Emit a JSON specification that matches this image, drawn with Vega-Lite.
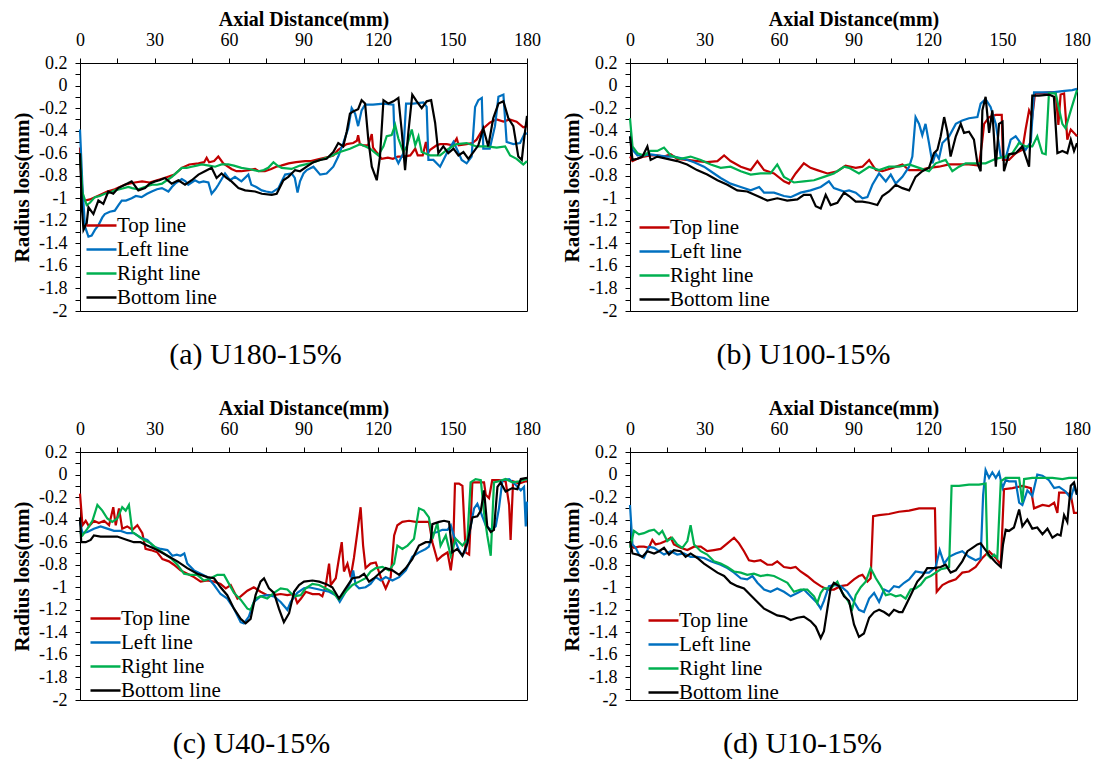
{
"$schema": "https://vega.github.io/schema/vega-lite/v6.json",
"padding": {"left": 11, "top": 8, "right": 5, "bottom": 0},
"background": "white",
"config": {
 "font": "Liberation Serif",
 "view": {"stroke": "black", "strokeWidth": 1},
 "axis": {"labelFont": "Liberation Serif", "labelFontSize": 18, "labelColor": "black", "titleFont": "Liberation Serif", "titleFontSize": 20, "titleFontWeight": "bold", "titleColor": "black", "domainColor": "black", "tickColor": "black", "grid": false, "labelOverlap": false, "labelFlush": false, "tickSize": 5},
 "axisX": {"labelPadding": 9, "titlePadding": 2},
 "axisY": {"labelPadding": 8, "titlePadding": 6, "titleFontSize": 21},
 "legend": {"labelFont": "Liberation Serif", "labelFontSize": 21, "labelColor": "black", "symbolType": "M-3,0H3", "symbolSize": 100, "symbolStrokeWidth": 2.5, "rowPadding": 2, "labelOffset": 5, "orient": "none", "padding": 0},
 "title": {"font": "Liberation Serif", "fontSize": 30, "fontWeight": "normal", "color": "black", "orient": "bottom"}
},
"datasets": {
"a": [
{"s":"T","x":0,"y":-0.55},{"s":"T","x":0.8,"y":-0.98},{"s":"T","x":2,"y":-1.02},{"s":"T","x":4,"y":-1.01},{"s":"T","x":6,"y":-0.99},{"s":"T","x":8,"y":-0.97},{"s":"T","x":11,"y":-0.94},{"s":"T","x":14,"y":-0.92},{"s":"T","x":18,"y":-0.88},{"s":"T","x":22,"y":-0.86},{"s":"T","x":25,"y":-0.85},{"s":"T","x":28,"y":-0.86},{"s":"T","x":31,"y":-0.84},{"s":"T","x":34,"y":-0.82},{"s":"T","x":38,"y":-0.79},{"s":"T","x":41,"y":-0.73},{"s":"T","x":44,"y":-0.7},{"s":"T","x":47.7,"y":-0.69},{"s":"T","x":50,"y":-0.68},{"s":"T","x":51,"y":-0.64},{"s":"T","x":52,"y":-0.68},{"s":"T","x":54,"y":-0.67},{"s":"T","x":55.7,"y":-0.63},{"s":"T","x":57.7,"y":-0.69},{"s":"T","x":61,"y":-0.74},{"s":"T","x":63,"y":-0.76},{"s":"T","x":65,"y":-0.76},{"s":"T","x":68,"y":-0.75},{"s":"T","x":70.5,"y":-0.74},{"s":"T","x":72,"y":-0.76},{"s":"T","x":74.5,"y":-0.76},{"s":"T","x":77,"y":-0.74},{"s":"T","x":79,"y":-0.72},{"s":"T","x":81,"y":-0.71},{"s":"T","x":84,"y":-0.69},{"s":"T","x":87,"y":-0.68},{"s":"T","x":90.6,"y":-0.67},{"s":"T","x":93,"y":-0.67},{"s":"T","x":96.7,"y":-0.65},{"s":"T","x":100.7,"y":-0.63},{"s":"T","x":102,"y":-0.62},{"s":"T","x":104,"y":-0.57},{"s":"T","x":106,"y":-0.54},{"s":"T","x":107.4,"y":-0.52},{"s":"T","x":110,"y":-0.51},{"s":"T","x":111.5,"y":-0.49},{"s":"T","x":112,"y":-0.44},{"s":"T","x":112.7,"y":-0.52},{"s":"T","x":114,"y":-0.53},{"s":"T","x":116,"y":-0.53},{"s":"T","x":117.5,"y":-0.43},{"s":"T","x":118,"y":-0.55},{"s":"T","x":119,"y":-0.58},{"s":"T","x":121.5,"y":-0.65},{"s":"T","x":124,"y":-0.64},{"s":"T","x":126,"y":-0.65},{"s":"T","x":128,"y":-0.63},{"s":"T","x":130.2,"y":-0.63},{"s":"T","x":133,"y":-0.62},{"s":"T","x":135,"y":-0.56},{"s":"T","x":136,"y":-0.62},{"s":"T","x":138,"y":-0.62},{"s":"T","x":139.3,"y":-0.5},{"s":"T","x":140,"y":-0.6},{"s":"T","x":141,"y":-0.57},{"s":"T","x":143.6,"y":-0.53},{"s":"T","x":145,"y":-0.52},{"s":"T","x":147.7,"y":-0.52},{"s":"T","x":150,"y":-0.53},{"s":"T","x":151.7,"y":-0.47},{"s":"T","x":152.5,"y":-0.53},{"s":"T","x":155.7,"y":-0.52},{"s":"T","x":158,"y":-0.51},{"s":"T","x":159.7,"y":-0.48},{"s":"T","x":162.4,"y":-0.38},{"s":"T","x":165,"y":-0.33},{"s":"T","x":167.8,"y":-0.3},{"s":"T","x":170.5,"y":-0.32},{"s":"T","x":173,"y":-0.3},{"s":"T","x":175.8,"y":-0.32},{"s":"T","x":178.5,"y":-0.37},{"s":"T","x":180,"y":-0.36},
{"s":"L","x":0,"y":-0.39},{"s":"L","x":1,"y":-0.9},{"s":"L","x":2,"y":-1.25},{"s":"L","x":3.4,"y":-1.34},{"s":"L","x":4.7,"y":-1.33},{"s":"L","x":6,"y":-1.28},{"s":"L","x":7.4,"y":-1.24},{"s":"L","x":9,"y":-1.17},{"s":"L","x":10,"y":-1.14},{"s":"L","x":12,"y":-1.12},{"s":"L","x":14,"y":-1.11},{"s":"L","x":15.5,"y":-1.06},{"s":"L","x":16.8,"y":-1.02},{"s":"L","x":18.5,"y":-1.02},{"s":"L","x":20.8,"y":-1},{"s":"L","x":22.5,"y":-0.98},{"s":"L","x":24.8,"y":-0.99},{"s":"L","x":27,"y":-0.96},{"s":"L","x":28.9,"y":-0.94},{"s":"L","x":31,"y":-0.92},{"s":"L","x":33,"y":-0.91},{"s":"L","x":35.6,"y":-0.94},{"s":"L","x":37,"y":-0.9},{"s":"L","x":38.3,"y":-0.87},{"s":"L","x":41,"y":-0.83},{"s":"L","x":42.5,"y":-0.85},{"s":"L","x":43.6,"y":-0.88},{"s":"L","x":46.3,"y":-0.84},{"s":"L","x":48,"y":-0.86},{"s":"L","x":49.7,"y":-0.85},{"s":"L","x":51.7,"y":-0.86},{"s":"L","x":53,"y":-0.96},{"s":"L","x":54.5,"y":-0.92},{"s":"L","x":55.7,"y":-0.88},{"s":"L","x":58.4,"y":-0.78},{"s":"L","x":60.4,"y":-0.84},{"s":"L","x":62.4,"y":-0.81},{"s":"L","x":65,"y":-0.85},{"s":"L","x":67.8,"y":-0.79},{"s":"L","x":69,"y":-0.88},{"s":"L","x":71,"y":-0.9},{"s":"L","x":73.2,"y":-0.93},{"s":"L","x":75,"y":-0.94},{"s":"L","x":77.2,"y":-0.95},{"s":"L","x":79.9,"y":-0.91},{"s":"L","x":81,"y":-0.86},{"s":"L","x":82.6,"y":-0.79},{"s":"L","x":85.2,"y":-0.78},{"s":"L","x":86.5,"y":-0.82},{"s":"L","x":87.6,"y":-0.95},{"s":"L","x":88.6,"y":-0.85},{"s":"L","x":90,"y":-0.78},{"s":"L","x":91.3,"y":-0.75},{"s":"L","x":94,"y":-0.72},{"s":"L","x":96.7,"y":-0.79},{"s":"L","x":99.3,"y":-0.78},{"s":"L","x":102,"y":-0.72},{"s":"L","x":104,"y":-0.63},{"s":"L","x":106,"y":-0.51},{"s":"L","x":108,"y":-0.38},{"s":"L","x":109.4,"y":-0.2},{"s":"L","x":110.8,"y":-0.25},{"s":"L","x":112,"y":-0.36},{"s":"L","x":113.4,"y":-0.22},{"s":"L","x":114.8,"y":-0.17},{"s":"L","x":118,"y":-0.17},{"s":"L","x":122.2,"y":-0.16},{"s":"L","x":126.2,"y":-0.17},{"s":"L","x":126.9,"y":-0.63},{"s":"L","x":128.2,"y":-0.69},{"s":"L","x":130.2,"y":-0.6},{"s":"L","x":131.3,"y":-0.16},{"s":"L","x":134.2,"y":-0.16},{"s":"L","x":138.3,"y":-0.15},{"s":"L","x":139.6,"y":-0.19},{"s":"L","x":140.3,"y":-0.66},{"s":"L","x":142.3,"y":-0.66},{"s":"L","x":145,"y":-0.72},{"s":"L","x":147.7,"y":-0.6},{"s":"L","x":150.4,"y":-0.5},{"s":"L","x":151.7,"y":-0.56},{"s":"L","x":153.7,"y":-0.66},{"s":"L","x":155.7,"y":-0.69},{"s":"L","x":157.7,"y":-0.63},{"s":"L","x":159.1,"y":-0.19},{"s":"L","x":160.4,"y":-0.13},{"s":"L","x":161.8,"y":-0.11},{"s":"L","x":162.4,"y":-0.56},{"s":"L","x":165,"y":-0.56},{"s":"L","x":167.1,"y":-0.36},{"s":"L","x":168.5,"y":-0.1},{"s":"L","x":170.5,"y":-0.08},{"s":"L","x":171.8,"y":-0.5},{"s":"L","x":174.5,"y":-0.52},{"s":"L","x":177.2,"y":-0.51},{"s":"L","x":179.2,"y":-0.42},{"s":"L","x":180,"y":-0.43},
{"s":"R","x":0,"y":-0.6},{"s":"R","x":1,"y":-0.95},{"s":"R","x":2.7,"y":-1.06},{"s":"R","x":4,"y":-1.04},{"s":"R","x":6,"y":-0.99},{"s":"R","x":8,"y":-0.98},{"s":"R","x":10,"y":-0.96},{"s":"R","x":12,"y":-0.95},{"s":"R","x":14,"y":-0.93},{"s":"R","x":16,"y":-0.92},{"s":"R","x":19.5,"y":-0.9},{"s":"R","x":21,"y":-0.91},{"s":"R","x":23.5,"y":-0.92},{"s":"R","x":26,"y":-0.9},{"s":"R","x":29,"y":-0.88},{"s":"R","x":31,"y":-0.88},{"s":"R","x":33,"y":-0.87},{"s":"R","x":35,"y":-0.84},{"s":"R","x":37,"y":-0.81},{"s":"R","x":39,"y":-0.77},{"s":"R","x":41,"y":-0.73},{"s":"R","x":43,"y":-0.73},{"s":"R","x":45,"y":-0.72},{"s":"R","x":47,"y":-0.71},{"s":"R","x":49,"y":-0.7},{"s":"R","x":52,"y":-0.71},{"s":"R","x":54.4,"y":-0.72},{"s":"R","x":57,"y":-0.7},{"s":"R","x":59.7,"y":-0.7},{"s":"R","x":62,"y":-0.71},{"s":"R","x":65,"y":-0.73},{"s":"R","x":68,"y":-0.74},{"s":"R","x":71.8,"y":-0.76},{"s":"R","x":74,"y":-0.75},{"s":"R","x":75.8,"y":-0.73},{"s":"R","x":77.9,"y":-0.68},{"s":"R","x":79.5,"y":-0.71},{"s":"R","x":81.2,"y":-0.73},{"s":"R","x":85.2,"y":-0.74},{"s":"R","x":88.6,"y":-0.71},{"s":"R","x":92.6,"y":-0.69},{"s":"R","x":96.7,"y":-0.66},{"s":"R","x":100.7,"y":-0.63},{"s":"R","x":104.7,"y":-0.59},{"s":"R","x":108.7,"y":-0.56},{"s":"R","x":112.8,"y":-0.52},{"s":"R","x":115,"y":-0.54},{"s":"R","x":116.8,"y":-0.56},{"s":"R","x":120.1,"y":-0.62},{"s":"R","x":122.2,"y":-0.54},{"s":"R","x":123.5,"y":-0.45},{"s":"R","x":125.5,"y":-0.44},{"s":"R","x":126.9,"y":-0.35},{"s":"R","x":128.2,"y":-0.47},{"s":"R","x":130.2,"y":-0.59},{"s":"R","x":131.6,"y":-0.54},{"s":"R","x":133.6,"y":-0.39},{"s":"R","x":135,"y":-0.53},{"s":"R","x":136.3,"y":-0.45},{"s":"R","x":137.6,"y":-0.59},{"s":"R","x":141,"y":-0.62},{"s":"R","x":145,"y":-0.62},{"s":"R","x":147.7,"y":-0.57},{"s":"R","x":151.7,"y":-0.52},{"s":"R","x":155.7,"y":-0.51},{"s":"R","x":159.7,"y":-0.54},{"s":"R","x":163.8,"y":-0.54},{"s":"R","x":167.8,"y":-0.55},{"s":"R","x":171.2,"y":-0.54},{"s":"R","x":173.2,"y":-0.62},{"s":"R","x":175.8,"y":-0.65},{"s":"R","x":178.5,"y":-0.7},{"s":"R","x":180,"y":-0.67},
{"s":"B","x":0,"y":-0.6},{"s":"B","x":0.8,"y":-1.1},{"s":"B","x":1.4,"y":-1.28},{"s":"B","x":2.7,"y":-1.22},{"s":"B","x":3.4,"y":-1.08},{"s":"B","x":5.4,"y":-1.14},{"s":"B","x":7.4,"y":-1.02},{"s":"B","x":9.4,"y":-1.05},{"s":"B","x":11.4,"y":-0.94},{"s":"B","x":13.4,"y":-0.96},{"s":"B","x":15.4,"y":-0.91},{"s":"B","x":18.1,"y":-0.88},{"s":"B","x":20.8,"y":-0.85},{"s":"B","x":23.5,"y":-0.93},{"s":"B","x":26.2,"y":-0.91},{"s":"B","x":28,"y":-0.87},{"s":"B","x":30.2,"y":-0.85},{"s":"B","x":32,"y":-0.84},{"s":"B","x":34.2,"y":-0.82},{"s":"B","x":36.9,"y":-0.87},{"s":"B","x":39.6,"y":-0.84},{"s":"B","x":42.3,"y":-0.88},{"s":"B","x":45,"y":-0.84},{"s":"B","x":47.7,"y":-0.79},{"s":"B","x":50.3,"y":-0.76},{"s":"B","x":53,"y":-0.73},{"s":"B","x":55,"y":-0.82},{"s":"B","x":57,"y":-0.78},{"s":"B","x":59,"y":-0.82},{"s":"B","x":61,"y":-0.85},{"s":"B","x":63.8,"y":-0.91},{"s":"B","x":66.5,"y":-0.93},{"s":"B","x":70.5,"y":-0.94},{"s":"B","x":73.2,"y":-0.96},{"s":"B","x":77.2,"y":-0.97},{"s":"B","x":79.2,"y":-0.96},{"s":"B","x":81.9,"y":-0.84},{"s":"B","x":83.9,"y":-0.81},{"s":"B","x":86.6,"y":-0.75},{"s":"B","x":88.6,"y":-0.76},{"s":"B","x":91.3,"y":-0.72},{"s":"B","x":94,"y":-0.68},{"s":"B","x":96.7,"y":-0.66},{"s":"B","x":99.3,"y":-0.65},{"s":"B","x":102,"y":-0.59},{"s":"B","x":104,"y":-0.51},{"s":"B","x":106,"y":-0.54},{"s":"B","x":107.4,"y":-0.41},{"s":"B","x":108.7,"y":-0.25},{"s":"B","x":110,"y":-0.23},{"s":"B","x":112,"y":-0.21},{"s":"B","x":113.4,"y":-0.13},{"s":"B","x":114.8,"y":-0.16},{"s":"B","x":116.1,"y":-0.48},{"s":"B","x":117.5,"y":-0.72},{"s":"B","x":119.5,"y":-0.84},{"s":"B","x":120.8,"y":-0.63},{"s":"B","x":122.2,"y":-0.13},{"s":"B","x":124.2,"y":-0.16},{"s":"B","x":126.2,"y":-0.14},{"s":"B","x":128.2,"y":-0.11},{"s":"B","x":129.5,"y":-0.39},{"s":"B","x":130.9,"y":-0.75},{"s":"B","x":132.2,"y":-0.42},{"s":"B","x":133.8,"y":-0.08},{"s":"B","x":135.6,"y":-0.14},{"s":"B","x":137.6,"y":-0.2},{"s":"B","x":139.6,"y":-0.14},{"s":"B","x":141.4,"y":-0.13},{"s":"B","x":143,"y":-0.33},{"s":"B","x":144.3,"y":-0.6},{"s":"B","x":146.3,"y":-0.54},{"s":"B","x":148.3,"y":-0.6},{"s":"B","x":150.4,"y":-0.56},{"s":"B","x":152.4,"y":-0.62},{"s":"B","x":154.4,"y":-0.59},{"s":"B","x":156.4,"y":-0.65},{"s":"B","x":158.4,"y":-0.59},{"s":"B","x":160.4,"y":-0.53},{"s":"B","x":162.4,"y":-0.38},{"s":"B","x":164.4,"y":-0.54},{"s":"B","x":166.4,"y":-0.29},{"s":"B","x":168.5,"y":-0.16},{"s":"B","x":170.5,"y":-0.14},{"s":"B","x":172.5,"y":-0.29},{"s":"B","x":174.5,"y":-0.36},{"s":"B","x":176.5,"y":-0.63},{"s":"B","x":177.9,"y":-0.66},{"s":"B","x":178.8,"y":-0.48},{"s":"B","x":180,"y":-0.27}
],
"b": [
{"s":"T","x":0,"y":-0.63},{"s":"T","x":1,"y":-0.67},{"s":"T","x":3,"y":-0.65},{"s":"T","x":5.6,"y":-0.63},{"s":"T","x":8.3,"y":-0.62},{"s":"T","x":11,"y":-0.62},{"s":"T","x":13.7,"y":-0.63},{"s":"T","x":16.4,"y":-0.61},{"s":"T","x":19,"y":-0.65},{"s":"T","x":23,"y":-0.66},{"s":"T","x":27,"y":-0.67},{"s":"T","x":31.1,"y":-0.68},{"s":"T","x":35.2,"y":-0.67},{"s":"T","x":37.9,"y":-0.62},{"s":"T","x":40.5,"y":-0.67},{"s":"T","x":44.6,"y":-0.72},{"s":"T","x":48.6,"y":-0.75},{"s":"T","x":51.3,"y":-0.67},{"s":"T","x":54,"y":-0.75},{"s":"T","x":58,"y":-0.78},{"s":"T","x":62,"y":-0.85},{"s":"T","x":64,"y":-0.87},{"s":"T","x":66.7,"y":-0.78},{"s":"T","x":70,"y":-0.69},{"s":"T","x":72.7,"y":-0.73},{"s":"T","x":75.4,"y":-0.75},{"s":"T","x":79.5,"y":-0.78},{"s":"T","x":83.5,"y":-0.76},{"s":"T","x":86.8,"y":-0.71},{"s":"T","x":90.9,"y":-0.73},{"s":"T","x":93.6,"y":-0.72},{"s":"T","x":96.3,"y":-0.66},{"s":"T","x":99,"y":-0.75},{"s":"T","x":101.6,"y":-0.76},{"s":"T","x":105.7,"y":-0.73},{"s":"T","x":109.7,"y":-0.7},{"s":"T","x":112.4,"y":-0.75},{"s":"T","x":116.4,"y":-0.75},{"s":"T","x":120.4,"y":-0.73},{"s":"T","x":124.4,"y":-0.72},{"s":"T","x":128.5,"y":-0.7},{"s":"T","x":132.5,"y":-0.7},{"s":"T","x":136.5,"y":-0.7},{"s":"T","x":140.5,"y":-0.71},{"s":"T","x":141.8,"y":-0.5},{"s":"T","x":142.6,"y":-0.34},{"s":"T","x":144.6,"y":-0.28},{"s":"T","x":147.3,"y":-0.26},{"s":"T","x":149.7,"y":-0.26},{"s":"T","x":150.2,"y":-0.66},{"s":"T","x":152.6,"y":-0.66},{"s":"T","x":155.3,"y":-0.6},{"s":"T","x":158,"y":-0.57},{"s":"T","x":159.3,"y":-0.39},{"s":"T","x":160.7,"y":-0.22},{"s":"T","x":162,"y":-0.28},{"s":"T","x":163.1,"y":-0.07},{"s":"T","x":165,"y":-0.07},{"s":"T","x":168.7,"y":-0.06},{"s":"T","x":171.4,"y":-0.06},{"s":"T","x":172.5,"y":-0.35},{"s":"T","x":173.4,"y":-0.08},{"s":"T","x":174.8,"y":-0.07},{"s":"T","x":176.1,"y":-0.48},{"s":"T","x":177.5,"y":-0.39},{"s":"T","x":178.8,"y":-0.42},{"s":"T","x":180,"y":-0.45},
{"s":"L","x":0,"y":-0.45},{"s":"L","x":1,"y":-0.57},{"s":"L","x":3,"y":-0.62},{"s":"L","x":5.6,"y":-0.62},{"s":"L","x":8.3,"y":-0.61},{"s":"L","x":11,"y":-0.62},{"s":"L","x":15,"y":-0.63},{"s":"L","x":17.7,"y":-0.63},{"s":"L","x":21.7,"y":-0.65},{"s":"L","x":25.8,"y":-0.68},{"s":"L","x":29.8,"y":-0.72},{"s":"L","x":32.5,"y":-0.76},{"s":"L","x":36.5,"y":-0.82},{"s":"L","x":40.5,"y":-0.87},{"s":"L","x":44.6,"y":-0.9},{"s":"L","x":48.6,"y":-0.93},{"s":"L","x":52,"y":-0.9},{"s":"L","x":54,"y":-0.95},{"s":"L","x":58,"y":-0.95},{"s":"L","x":62,"y":-0.98},{"s":"L","x":64.7,"y":-0.99},{"s":"L","x":68.7,"y":-0.95},{"s":"L","x":72.7,"y":-0.93},{"s":"L","x":76.8,"y":-0.9},{"s":"L","x":80.1,"y":-0.85},{"s":"L","x":82.1,"y":-0.91},{"s":"L","x":86.2,"y":-0.94},{"s":"L","x":88.2,"y":-0.93},{"s":"L","x":90.9,"y":-0.95},{"s":"L","x":93.6,"y":-1},{"s":"L","x":95.6,"y":-0.99},{"s":"L","x":97.6,"y":-0.88},{"s":"L","x":100.3,"y":-0.78},{"s":"L","x":103,"y":-0.85},{"s":"L","x":105,"y":-0.79},{"s":"L","x":107,"y":-0.87},{"s":"L","x":109.7,"y":-0.81},{"s":"L","x":112.4,"y":-0.72},{"s":"L","x":113.7,"y":-0.63},{"s":"L","x":115,"y":-0.28},{"s":"L","x":116.4,"y":-0.34},{"s":"L","x":117.7,"y":-0.44},{"s":"L","x":119,"y":-0.34},{"s":"L","x":120.4,"y":-0.51},{"s":"L","x":121.8,"y":-0.69},{"s":"L","x":123.1,"y":-0.6},{"s":"L","x":124.4,"y":-0.65},{"s":"L","x":125.8,"y":-0.51},{"s":"L","x":128.5,"y":-0.45},{"s":"L","x":131.2,"y":-0.34},{"s":"L","x":133.8,"y":-0.31},{"s":"L","x":136.5,"y":-0.29},{"s":"L","x":139.9,"y":-0.28},{"s":"L","x":141.2,"y":-0.16},{"s":"L","x":143.2,"y":-0.12},{"s":"L","x":145.2,"y":-0.19},{"s":"L","x":147.3,"y":-0.34},{"s":"L","x":149.3,"y":-0.63},{"s":"L","x":151.3,"y":-0.64},{"s":"L","x":153.3,"y":-0.48},{"s":"L","x":155.3,"y":-0.45},{"s":"L","x":157.3,"y":-0.51},{"s":"L","x":159.3,"y":-0.57},{"s":"L","x":161.4,"y":-0.5},{"s":"L","x":162.7,"y":-0.06},{"s":"L","x":166,"y":-0.06},{"s":"L","x":170,"y":-0.06},{"s":"L","x":174.1,"y":-0.05},{"s":"L","x":178.1,"y":-0.04},{"s":"L","x":180,"y":-0.03},
{"s":"R","x":0,"y":-0.29},{"s":"R","x":1,"y":-0.54},{"s":"R","x":3,"y":-0.6},{"s":"R","x":5.6,"y":-0.62},{"s":"R","x":8.3,"y":-0.58},{"s":"R","x":11,"y":-0.58},{"s":"R","x":13.7,"y":-0.55},{"s":"R","x":16.4,"y":-0.62},{"s":"R","x":20.4,"y":-0.65},{"s":"R","x":24.4,"y":-0.63},{"s":"R","x":28.5,"y":-0.66},{"s":"R","x":32.5,"y":-0.7},{"s":"R","x":36.5,"y":-0.73},{"s":"R","x":40.5,"y":-0.72},{"s":"R","x":44.6,"y":-0.76},{"s":"R","x":48.6,"y":-0.79},{"s":"R","x":52.6,"y":-0.78},{"s":"R","x":56.6,"y":-0.78},{"s":"R","x":59.3,"y":-0.7},{"s":"R","x":62,"y":-0.81},{"s":"R","x":66,"y":-0.86},{"s":"R","x":70,"y":-0.85},{"s":"R","x":74.1,"y":-0.84},{"s":"R","x":78.1,"y":-0.81},{"s":"R","x":82.1,"y":-0.78},{"s":"R","x":86.2,"y":-0.72},{"s":"R","x":88.2,"y":-0.73},{"s":"R","x":92.2,"y":-0.78},{"s":"R","x":96.3,"y":-0.72},{"s":"R","x":100.3,"y":-0.75},{"s":"R","x":104.3,"y":-0.72},{"s":"R","x":108.3,"y":-0.72},{"s":"R","x":112.4,"y":-0.7},{"s":"R","x":116.4,"y":-0.73},{"s":"R","x":120.4,"y":-0.76},{"s":"R","x":123.1,"y":-0.69},{"s":"R","x":127.1,"y":-0.66},{"s":"R","x":129.8,"y":-0.76},{"s":"R","x":132.5,"y":-0.72},{"s":"R","x":135.2,"y":-0.69},{"s":"R","x":139.2,"y":-0.69},{"s":"R","x":143.2,"y":-0.69},{"s":"R","x":147.3,"y":-0.65},{"s":"R","x":151.3,"y":-0.63},{"s":"R","x":154,"y":-0.6},{"s":"R","x":156.6,"y":-0.51},{"s":"R","x":159.3,"y":-0.54},{"s":"R","x":162,"y":-0.54},{"s":"R","x":164,"y":-0.45},{"s":"R","x":166,"y":-0.6},{"s":"R","x":167.4,"y":-0.61},{"s":"R","x":168.7,"y":-0.07},{"s":"R","x":171.4,"y":-0.07},{"s":"R","x":174.1,"y":-0.34},{"s":"R","x":175.4,"y":-0.38},{"s":"R","x":177.5,"y":-0.22},{"s":"R","x":180,"y":-0.04},
{"s":"B","x":0,"y":-0.45},{"s":"B","x":1,"y":-0.66},{"s":"B","x":3,"y":-0.65},{"s":"B","x":5,"y":-0.63},{"s":"B","x":7,"y":-0.54},{"s":"B","x":8.3,"y":-0.66},{"s":"B","x":11,"y":-0.63},{"s":"B","x":15,"y":-0.65},{"s":"B","x":19,"y":-0.67},{"s":"B","x":23,"y":-0.7},{"s":"B","x":27,"y":-0.75},{"s":"B","x":31.1,"y":-0.79},{"s":"B","x":35.2,"y":-0.84},{"s":"B","x":39.2,"y":-0.88},{"s":"B","x":43.2,"y":-0.93},{"s":"B","x":47.2,"y":-0.94},{"s":"B","x":51.3,"y":-0.98},{"s":"B","x":55.3,"y":-1.02},{"s":"B","x":59.3,"y":-1},{"s":"B","x":63.3,"y":-1.02},{"s":"B","x":67.4,"y":-1.01},{"s":"B","x":70,"y":-0.97},{"s":"B","x":72.7,"y":-0.97},{"s":"B","x":74.8,"y":-1.07},{"s":"B","x":76.8,"y":-1.09},{"s":"B","x":78.8,"y":-0.97},{"s":"B","x":80.8,"y":-1.06},{"s":"B","x":83.5,"y":-1.04},{"s":"B","x":86.2,"y":-0.95},{"s":"B","x":88.2,"y":-0.98},{"s":"B","x":90.9,"y":-1.03},{"s":"B","x":93.6,"y":-1.03},{"s":"B","x":96.3,"y":-1.04},{"s":"B","x":99.6,"y":-1.06},{"s":"B","x":101.6,"y":-0.98},{"s":"B","x":104.3,"y":-0.94},{"s":"B","x":107,"y":-0.88},{"s":"B","x":109.7,"y":-0.91},{"s":"B","x":112.4,"y":-0.93},{"s":"B","x":115,"y":-0.81},{"s":"B","x":117.7,"y":-0.76},{"s":"B","x":120.4,"y":-0.73},{"s":"B","x":122.4,"y":-0.6},{"s":"B","x":123.8,"y":-0.57},{"s":"B","x":125.1,"y":-0.45},{"s":"B","x":126.5,"y":-0.28},{"s":"B","x":127.8,"y":-0.41},{"s":"B","x":129.1,"y":-0.63},{"s":"B","x":131.2,"y":-0.45},{"s":"B","x":133.2,"y":-0.34},{"s":"B","x":134.5,"y":-0.42},{"s":"B","x":136.5,"y":-0.41},{"s":"B","x":138.5,"y":-0.48},{"s":"B","x":139.9,"y":-0.69},{"s":"B","x":141.2,"y":-0.76},{"s":"B","x":141.9,"y":-0.22},{"s":"B","x":143.2,"y":-0.1},{"s":"B","x":144.6,"y":-0.42},{"s":"B","x":145.9,"y":-0.22},{"s":"B","x":147.3,"y":-0.72},{"s":"B","x":148.6,"y":-0.34},{"s":"B","x":150,"y":-0.32},{"s":"B","x":150.6,"y":-0.76},{"s":"B","x":152.6,"y":-0.61},{"s":"B","x":155.3,"y":-0.6},{"s":"B","x":158,"y":-0.54},{"s":"B","x":160.7,"y":-0.72},{"s":"B","x":162,"y":-0.09},{"s":"B","x":164.7,"y":-0.09},{"s":"B","x":168.7,"y":-0.08},{"s":"B","x":170.7,"y":-0.1},{"s":"B","x":172.1,"y":-0.6},{"s":"B","x":174.1,"y":-0.58},{"s":"B","x":176.1,"y":-0.6},{"s":"B","x":177.5,"y":-0.48},{"s":"B","x":178.8,"y":-0.58},{"s":"B","x":180,"y":-0.51}
],
"c": [
{"s":"T","x":0,"y":-0.17},{"s":"T","x":1,"y":-0.45},{"s":"T","x":2.3,"y":-0.41},{"s":"T","x":3.6,"y":-0.46},{"s":"T","x":5.6,"y":-0.41},{"s":"T","x":7.6,"y":-0.43},{"s":"T","x":9.7,"y":-0.41},{"s":"T","x":11.7,"y":-0.45},{"s":"T","x":13.4,"y":-0.29},{"s":"T","x":14.4,"y":-0.45},{"s":"T","x":15.7,"y":-0.3},{"s":"T","x":17,"y":-0.48},{"s":"T","x":19,"y":-0.46},{"s":"T","x":21.1,"y":-0.49},{"s":"T","x":23.1,"y":-0.45},{"s":"T","x":25.1,"y":-0.52},{"s":"T","x":26.4,"y":-0.66},{"s":"T","x":28.5,"y":-0.67},{"s":"T","x":31.1,"y":-0.69},{"s":"T","x":33.2,"y":-0.75},{"s":"T","x":35.8,"y":-0.77},{"s":"T","x":37.8,"y":-0.8},{"s":"T","x":40.5,"y":-0.85},{"s":"T","x":43.2,"y":-0.88},{"s":"T","x":45.9,"y":-0.91},{"s":"T","x":48.6,"y":-0.95},{"s":"T","x":51.3,"y":-0.94},{"s":"T","x":54,"y":-0.95},{"s":"T","x":56.6,"y":-0.97},{"s":"T","x":58.7,"y":-1.01},{"s":"T","x":60.7,"y":-0.98},{"s":"T","x":63.4,"y":-1.1},{"s":"T","x":64.7,"y":-1.08},{"s":"T","x":67.4,"y":-1.03},{"s":"T","x":70,"y":-1},{"s":"T","x":72.7,"y":-1.04},{"s":"T","x":75.4,"y":-1.07},{"s":"T","x":78.1,"y":-1.07},{"s":"T","x":80.8,"y":-1.06},{"s":"T","x":83.5,"y":-1.07},{"s":"T","x":86.2,"y":-1.06},{"s":"T","x":87.5,"y":-1.14},{"s":"T","x":89,"y":-1.1},{"s":"T","x":90.9,"y":-1.04},{"s":"T","x":93.6,"y":-1.06},{"s":"T","x":96.3,"y":-1.06},{"s":"T","x":97.6,"y":-1.08},{"s":"T","x":99,"y":-0.98},{"s":"T","x":100.3,"y":-0.79},{"s":"T","x":101,"y":-0.98},{"s":"T","x":103,"y":-0.92},{"s":"T","x":104.3,"y":-0.74},{"s":"T","x":105.4,"y":-0.6},{"s":"T","x":106.3,"y":-0.86},{"s":"T","x":107.7,"y":-0.79},{"s":"T","x":109,"y":-0.91},{"s":"T","x":110.3,"y":-0.74},{"s":"T","x":111.7,"y":-0.51},{"s":"T","x":113,"y":-0.29},{"s":"T","x":114,"y":-0.63},{"s":"T","x":115,"y":-0.83},{"s":"T","x":117,"y":-0.79},{"s":"T","x":119.1,"y":-0.78},{"s":"T","x":121.1,"y":-0.91},{"s":"T","x":123.1,"y":-1.01},{"s":"T","x":125.1,"y":-0.91},{"s":"T","x":126.5,"y":-0.54},{"s":"T","x":127.8,"y":-0.45},{"s":"T","x":129.8,"y":-0.42},{"s":"T","x":132.5,"y":-0.41},{"s":"T","x":135.2,"y":-0.42},{"s":"T","x":137.9,"y":-0.42},{"s":"T","x":140.5,"y":-0.42},{"s":"T","x":141.9,"y":-0.6},{"s":"T","x":143.9,"y":-0.76},{"s":"T","x":145.9,"y":-0.72},{"s":"T","x":148,"y":-0.69},{"s":"T","x":149.3,"y":-0.85},{"s":"T","x":150.2,"y":-0.69},{"s":"T","x":151,"y":-0.08},{"s":"T","x":152.6,"y":-0.08},{"s":"T","x":154,"y":-0.1},{"s":"T","x":155.3,"y":-0.69},{"s":"T","x":156.7,"y":-0.71},{"s":"T","x":158,"y":-0.07},{"s":"T","x":160.7,"y":-0.07},{"s":"T","x":162.7,"y":-0.07},{"s":"T","x":163.4,"y":-0.18},{"s":"T","x":164.7,"y":-0.21},{"s":"T","x":166,"y":-0.05},{"s":"T","x":168.7,"y":-0.05},{"s":"T","x":171.4,"y":-0.06},{"s":"T","x":172.8,"y":-0.27},{"s":"T","x":173.4,"y":-0.58},{"s":"T","x":174.4,"y":-0.06},{"s":"T","x":176.8,"y":-0.08},{"s":"T","x":179.5,"y":-0.06},{"s":"T","x":180,"y":-0.06},
{"s":"L","x":0,"y":-0.42},{"s":"L","x":1,"y":-0.52},{"s":"L","x":3,"y":-0.51},{"s":"L","x":5.6,"y":-0.48},{"s":"L","x":8.3,"y":-0.46},{"s":"L","x":11,"y":-0.48},{"s":"L","x":13.7,"y":-0.5},{"s":"L","x":16.4,"y":-0.5},{"s":"L","x":19,"y":-0.52},{"s":"L","x":21.7,"y":-0.52},{"s":"L","x":24.4,"y":-0.56},{"s":"L","x":27.1,"y":-0.58},{"s":"L","x":29.8,"y":-0.64},{"s":"L","x":32.5,"y":-0.66},{"s":"L","x":35.2,"y":-0.67},{"s":"L","x":37.2,"y":-0.72},{"s":"L","x":39,"y":-0.71},{"s":"L","x":40.5,"y":-0.72},{"s":"L","x":42,"y":-0.7},{"s":"L","x":43.2,"y":-0.79},{"s":"L","x":45.9,"y":-0.85},{"s":"L","x":48.6,"y":-0.88},{"s":"L","x":51.3,"y":-0.91},{"s":"L","x":54,"y":-0.98},{"s":"L","x":56.6,"y":-1.06},{"s":"L","x":59.3,"y":-1.1},{"s":"L","x":62,"y":-1.19},{"s":"L","x":64.7,"y":-1.31},{"s":"L","x":66,"y":-1.32},{"s":"L","x":68,"y":-1.26},{"s":"L","x":70,"y":-1.13},{"s":"L","x":72.7,"y":-1.08},{"s":"L","x":75.4,"y":-1.07},{"s":"L","x":78.1,"y":-1.08},{"s":"L","x":80.8,"y":-1.13},{"s":"L","x":83.5,"y":-1.2},{"s":"L","x":84.8,"y":-1.13},{"s":"L","x":87.5,"y":-1.05},{"s":"L","x":90.2,"y":-1.01},{"s":"L","x":92.2,"y":-1},{"s":"L","x":96.3,"y":-1.02},{"s":"L","x":100.3,"y":-1.04},{"s":"L","x":103,"y":-1.07},{"s":"L","x":104.6,"y":-1.13},{"s":"L","x":107,"y":-1.04},{"s":"L","x":109,"y":-0.95},{"s":"L","x":110,"y":-0.85},{"s":"L","x":111,"y":-0.98},{"s":"L","x":112.4,"y":-1.01},{"s":"L","x":115,"y":-1},{"s":"L","x":117,"y":-0.97},{"s":"L","x":119.1,"y":-0.91},{"s":"L","x":121.1,"y":-0.94},{"s":"L","x":123.1,"y":-0.91},{"s":"L","x":125.8,"y":-0.94},{"s":"L","x":128.5,"y":-0.91},{"s":"L","x":131.2,"y":-0.85},{"s":"L","x":133.8,"y":-0.73},{"s":"L","x":136.5,"y":-0.69},{"s":"L","x":139.2,"y":-0.66},{"s":"L","x":140.5,"y":-0.64},{"s":"L","x":141.9,"y":-0.52},{"s":"L","x":143.9,"y":-0.51},{"s":"L","x":145.9,"y":-0.49},{"s":"L","x":148,"y":-0.49},{"s":"L","x":149.3,"y":-0.45},{"s":"L","x":151.3,"y":-0.6},{"s":"L","x":152.6,"y":-0.67},{"s":"L","x":154,"y":-0.72},{"s":"L","x":155.3,"y":-0.67},{"s":"L","x":156.6,"y":-0.54},{"s":"L","x":158.7,"y":-0.3},{"s":"L","x":160,"y":-0.26},{"s":"L","x":161.3,"y":-0.33},{"s":"L","x":163.4,"y":-0.45},{"s":"L","x":165.4,"y":-0.49},{"s":"L","x":167.4,"y":-0.46},{"s":"L","x":168.7,"y":-0.3},{"s":"L","x":170.1,"y":-0.05},{"s":"L","x":172.8,"y":-0.04},{"s":"L","x":175.4,"y":-0.09},{"s":"L","x":177.5,"y":-0.14},{"s":"L","x":178.8,"y":-0.11},{"s":"L","x":179.5,"y":-0.46},{"s":"L","x":180,"y":-0.24},
{"s":"R","x":0,"y":-0.51},{"s":"R","x":1,"y":-0.54},{"s":"R","x":3,"y":-0.48},{"s":"R","x":5,"y":-0.41},{"s":"R","x":7,"y":-0.27},{"s":"R","x":9,"y":-0.32},{"s":"R","x":11,"y":-0.39},{"s":"R","x":13,"y":-0.42},{"s":"R","x":15,"y":-0.39},{"s":"R","x":17,"y":-0.29},{"s":"R","x":18.4,"y":-0.32},{"s":"R","x":19.7,"y":-0.27},{"s":"R","x":21.1,"y":-0.51},{"s":"R","x":23.1,"y":-0.54},{"s":"R","x":25.8,"y":-0.58},{"s":"R","x":28.5,"y":-0.61},{"s":"R","x":31.1,"y":-0.66},{"s":"R","x":33.8,"y":-0.7},{"s":"R","x":36.5,"y":-0.74},{"s":"R","x":39.2,"y":-0.8},{"s":"R","x":41.9,"y":-0.88},{"s":"R","x":44.6,"y":-0.89},{"s":"R","x":47.2,"y":-0.89},{"s":"R","x":49.9,"y":-0.94},{"s":"R","x":52.6,"y":-0.92},{"s":"R","x":55.3,"y":-0.89},{"s":"R","x":58,"y":-0.89},{"s":"R","x":60,"y":-0.97},{"s":"R","x":62,"y":-1.05},{"s":"R","x":64.7,"y":-1.11},{"s":"R","x":67.4,"y":-1.19},{"s":"R","x":68.7,"y":-1.2},{"s":"R","x":70.7,"y":-1.1},{"s":"R","x":72.7,"y":-1.08},{"s":"R","x":75.4,"y":-1.1},{"s":"R","x":78.1,"y":-1.05},{"s":"R","x":80.8,"y":-1.01},{"s":"R","x":83.5,"y":-1.02},{"s":"R","x":86.2,"y":-1.08},{"s":"R","x":88.9,"y":-1.07},{"s":"R","x":90.9,"y":-1.01},{"s":"R","x":93.6,"y":-0.97},{"s":"R","x":96.3,"y":-0.98},{"s":"R","x":99,"y":-1.01},{"s":"R","x":101.6,"y":-1.04},{"s":"R","x":104.3,"y":-1.11},{"s":"R","x":107,"y":-1.04},{"s":"R","x":109.7,"y":-0.98},{"s":"R","x":112.4,"y":-0.95},{"s":"R","x":115,"y":-0.92},{"s":"R","x":117,"y":-0.86},{"s":"R","x":119.1,"y":-0.83},{"s":"R","x":121.8,"y":-0.82},{"s":"R","x":124.4,"y":-0.85},{"s":"R","x":126.5,"y":-0.79},{"s":"R","x":127.8,"y":-0.63},{"s":"R","x":129.8,"y":-0.66},{"s":"R","x":131.9,"y":-0.63},{"s":"R","x":134.5,"y":-0.57},{"s":"R","x":136.5,"y":-0.3},{"s":"R","x":138.5,"y":-0.32},{"s":"R","x":140.5,"y":-0.38},{"s":"R","x":141.9,"y":-0.57},{"s":"R","x":143.9,"y":-0.43},{"s":"R","x":145.2,"y":-0.63},{"s":"R","x":147.3,"y":-0.54},{"s":"R","x":149.3,"y":-0.72},{"s":"R","x":151.3,"y":-0.57},{"s":"R","x":154,"y":-0.63},{"s":"R","x":156,"y":-0.57},{"s":"R","x":157.3,"y":-0.07},{"s":"R","x":159.3,"y":-0.04},{"s":"R","x":161.4,"y":-0.05},{"s":"R","x":162.7,"y":-0.34},{"s":"R","x":164,"y":-0.54},{"s":"R","x":165.4,"y":-0.72},{"s":"R","x":166.7,"y":-0.07},{"s":"R","x":168.7,"y":-0.06},{"s":"R","x":171.4,"y":-0.04},{"s":"R","x":174.1,"y":-0.07},{"s":"R","x":176.8,"y":-0.06},{"s":"R","x":180,"y":-0.04},
{"s":"B","x":0,"y":-0.38},{"s":"B","x":0.5,"y":-0.6},{"s":"B","x":2.3,"y":-0.6},{"s":"B","x":4.3,"y":-0.58},{"s":"B","x":5.6,"y":-0.54},{"s":"B","x":8.3,"y":-0.55},{"s":"B","x":11,"y":-0.55},{"s":"B","x":15,"y":-0.55},{"s":"B","x":19,"y":-0.58},{"s":"B","x":21.7,"y":-0.6},{"s":"B","x":24.4,"y":-0.6},{"s":"B","x":27.1,"y":-0.63},{"s":"B","x":31.1,"y":-0.67},{"s":"B","x":35.2,"y":-0.72},{"s":"B","x":39.2,"y":-0.77},{"s":"B","x":43.2,"y":-0.83},{"s":"B","x":47.2,"y":-0.88},{"s":"B","x":51.3,"y":-0.91},{"s":"B","x":54,"y":-0.92},{"s":"B","x":56.6,"y":-1},{"s":"B","x":59.3,"y":-1.07},{"s":"B","x":62,"y":-1.19},{"s":"B","x":64.7,"y":-1.28},{"s":"B","x":66.7,"y":-1.32},{"s":"B","x":68.7,"y":-1.28},{"s":"B","x":70.7,"y":-1.07},{"s":"B","x":72.7,"y":-0.95},{"s":"B","x":74.1,"y":-0.92},{"s":"B","x":76.1,"y":-1.01},{"s":"B","x":78.1,"y":-1.05},{"s":"B","x":80.1,"y":-1.19},{"s":"B","x":82.1,"y":-1.31},{"s":"B","x":84.2,"y":-1.23},{"s":"B","x":86.2,"y":-1.04},{"s":"B","x":88.2,"y":-0.98},{"s":"B","x":90.2,"y":-0.95},{"s":"B","x":93.6,"y":-0.94},{"s":"B","x":96.3,"y":-0.95},{"s":"B","x":99,"y":-0.97},{"s":"B","x":101.6,"y":-1},{"s":"B","x":104.3,"y":-1.1},{"s":"B","x":107,"y":-1.01},{"s":"B","x":109.7,"y":-0.92},{"s":"B","x":112.4,"y":-0.91},{"s":"B","x":114.4,"y":-0.88},{"s":"B","x":116.4,"y":-0.95},{"s":"B","x":118.4,"y":-0.92},{"s":"B","x":120.4,"y":-0.88},{"s":"B","x":123.1,"y":-0.83},{"s":"B","x":125.8,"y":-0.85},{"s":"B","x":128.5,"y":-0.89},{"s":"B","x":131.2,"y":-0.83},{"s":"B","x":133.8,"y":-0.75},{"s":"B","x":136.5,"y":-0.63},{"s":"B","x":139.2,"y":-0.6},{"s":"B","x":141.2,"y":-0.6},{"s":"B","x":141.9,"y":-0.44},{"s":"B","x":144.6,"y":-0.42},{"s":"B","x":146.6,"y":-0.41},{"s":"B","x":148.6,"y":-0.42},{"s":"B","x":149.9,"y":-0.69},{"s":"B","x":151.9,"y":-0.66},{"s":"B","x":154,"y":-0.72},{"s":"B","x":156,"y":-0.61},{"s":"B","x":158,"y":-0.38},{"s":"B","x":160,"y":-0.37},{"s":"B","x":161.4,"y":-0.32},{"s":"B","x":162.7,"y":-0.14},{"s":"B","x":164,"y":-0.46},{"s":"B","x":165.4,"y":-0.51},{"s":"B","x":166.7,"y":-0.49},{"s":"B","x":168.1,"y":-0.11},{"s":"B","x":169.4,"y":-0.07},{"s":"B","x":171.4,"y":-0.15},{"s":"B","x":174.1,"y":-0.12},{"s":"B","x":176.1,"y":-0.13},{"s":"B","x":177.5,"y":-0.04},{"s":"B","x":180,"y":-0.03}
],
"d": [
{"s":"T","x":0,"y":-0.62},{"s":"T","x":1.6,"y":-0.65},{"s":"T","x":3.6,"y":-0.64},{"s":"T","x":5.6,"y":-0.64},{"s":"T","x":7.6,"y":-0.65},{"s":"T","x":9,"y":-0.58},{"s":"T","x":10.3,"y":-0.62},{"s":"T","x":12.3,"y":-0.61},{"s":"T","x":14.4,"y":-0.59},{"s":"T","x":16.4,"y":-0.56},{"s":"T","x":17.7,"y":-0.62},{"s":"T","x":20.4,"y":-0.65},{"s":"T","x":23.1,"y":-0.67},{"s":"T","x":25.8,"y":-0.64},{"s":"T","x":28.5,"y":-0.64},{"s":"T","x":31.1,"y":-0.68},{"s":"T","x":33.8,"y":-0.67},{"s":"T","x":36.5,"y":-0.66},{"s":"T","x":39.2,"y":-0.61},{"s":"T","x":41.9,"y":-0.56},{"s":"T","x":43.9,"y":-0.61},{"s":"T","x":45.9,"y":-0.68},{"s":"T","x":47.9,"y":-0.76},{"s":"T","x":50,"y":-0.77},{"s":"T","x":52.6,"y":-0.76},{"s":"T","x":55.3,"y":-0.8},{"s":"T","x":57.3,"y":-0.8},{"s":"T","x":59.3,"y":-0.77},{"s":"T","x":62,"y":-0.82},{"s":"T","x":64.7,"y":-0.83},{"s":"T","x":66.7,"y":-0.82},{"s":"T","x":68.7,"y":-0.86},{"s":"T","x":71.4,"y":-0.9},{"s":"T","x":74.1,"y":-0.95},{"s":"T","x":76.8,"y":-0.99},{"s":"T","x":79.5,"y":-1.02},{"s":"T","x":82.1,"y":-1.02},{"s":"T","x":84.8,"y":-0.99},{"s":"T","x":87.5,"y":-0.98},{"s":"T","x":90.2,"y":-0.93},{"s":"T","x":92.2,"y":-0.9},{"s":"T","x":93.6,"y":-0.89},{"s":"T","x":95.6,"y":-0.95},{"s":"T","x":96.9,"y":-0.92},{"s":"T","x":97.9,"y":-0.37},{"s":"T","x":100.3,"y":-0.36},{"s":"T","x":104.3,"y":-0.35},{"s":"T","x":108.3,"y":-0.33},{"s":"T","x":112.4,"y":-0.32},{"s":"T","x":116.4,"y":-0.3},{"s":"T","x":120.4,"y":-0.3},{"s":"T","x":122.8,"y":-0.3},{"s":"T","x":123.5,"y":-1.04},{"s":"T","x":125.8,"y":-0.98},{"s":"T","x":128.5,"y":-0.95},{"s":"T","x":131.2,"y":-0.93},{"s":"T","x":133.8,"y":-0.87},{"s":"T","x":136.5,"y":-0.86},{"s":"T","x":139.2,"y":-0.82},{"s":"T","x":141.9,"y":-0.74},{"s":"T","x":144.6,"y":-0.68},{"s":"T","x":147.3,"y":-0.74},{"s":"T","x":149.3,"y":-0.8},{"s":"T","x":150.6,"y":-0.13},{"s":"T","x":154,"y":-0.12},{"s":"T","x":158,"y":-0.1},{"s":"T","x":161.4,"y":-0.12},{"s":"T","x":162.7,"y":-0.3},{"s":"T","x":166.1,"y":-0.27},{"s":"T","x":168.7,"y":-0.28},{"s":"T","x":170.8,"y":-0.25},{"s":"T","x":172.1,"y":-0.34},{"s":"T","x":172.8,"y":-0.16},{"s":"T","x":175.4,"y":-0.16},{"s":"T","x":177.5,"y":-0.18},{"s":"T","x":178.8,"y":-0.34},{"s":"T","x":180,"y":-0.34},
{"s":"L","x":0,"y":-0.27},{"s":"L","x":1,"y":-0.62},{"s":"L","x":2.3,"y":-0.65},{"s":"L","x":3.6,"y":-0.71},{"s":"L","x":5.6,"y":-0.74},{"s":"L","x":7.6,"y":-0.64},{"s":"L","x":9.7,"y":-0.65},{"s":"L","x":11.7,"y":-0.68},{"s":"L","x":13.7,"y":-0.71},{"s":"L","x":16.4,"y":-0.68},{"s":"L","x":19,"y":-0.71},{"s":"L","x":21.7,"y":-0.7},{"s":"L","x":24.4,"y":-0.73},{"s":"L","x":27.1,"y":-0.73},{"s":"L","x":29.8,"y":-0.74},{"s":"L","x":32.5,"y":-0.77},{"s":"L","x":36.5,"y":-0.8},{"s":"L","x":39.2,"y":-0.83},{"s":"L","x":41.9,"y":-0.87},{"s":"L","x":44.6,"y":-0.92},{"s":"L","x":47.2,"y":-0.93},{"s":"L","x":49.3,"y":-0.9},{"s":"L","x":51.3,"y":-0.96},{"s":"L","x":54,"y":-1.02},{"s":"L","x":56.6,"y":-1.04},{"s":"L","x":59.3,"y":-1.01},{"s":"L","x":62,"y":-1.04},{"s":"L","x":64.7,"y":-1.08},{"s":"L","x":67.4,"y":-1.05},{"s":"L","x":70,"y":-1.02},{"s":"L","x":72.7,"y":-1.08},{"s":"L","x":75.4,"y":-1.14},{"s":"L","x":76.8,"y":-1.19},{"s":"L","x":78.1,"y":-1.12},{"s":"L","x":80.1,"y":-0.99},{"s":"L","x":82.1,"y":-0.98},{"s":"L","x":84.8,"y":-0.99},{"s":"L","x":87.5,"y":-1.04},{"s":"L","x":90.2,"y":-1.13},{"s":"L","x":92.2,"y":-1.2},{"s":"L","x":94.2,"y":-1.22},{"s":"L","x":96.3,"y":-1.1},{"s":"L","x":98.3,"y":-1.05},{"s":"L","x":100.3,"y":-1.13},{"s":"L","x":102.3,"y":-1.02},{"s":"L","x":104.3,"y":-1.04},{"s":"L","x":106.3,"y":-0.99},{"s":"L","x":108.3,"y":-1},{"s":"L","x":110.4,"y":-0.96},{"s":"L","x":112.4,"y":-0.93},{"s":"L","x":115,"y":-0.86},{"s":"L","x":117.7,"y":-0.87},{"s":"L","x":120.4,"y":-0.87},{"s":"L","x":123.1,"y":-0.82},{"s":"L","x":124.7,"y":-0.67},{"s":"L","x":126.5,"y":-0.79},{"s":"L","x":128.5,"y":-0.73},{"s":"L","x":131.2,"y":-0.7},{"s":"L","x":133.8,"y":-0.68},{"s":"L","x":136.5,"y":-0.73},{"s":"L","x":139.2,"y":-0.76},{"s":"L","x":141.2,"y":-0.74},{"s":"L","x":142.2,"y":-0.18},{"s":"L","x":143.2,"y":0.04},{"s":"L","x":144.6,"y":-0.03},{"s":"L","x":145.9,"y":0.02},{"s":"L","x":147.3,"y":-0.03},{"s":"L","x":148.6,"y":0.02},{"s":"L","x":150,"y":-0.12},{"s":"L","x":151.3,"y":-0.05},{"s":"L","x":152.6,"y":-0.06},{"s":"L","x":155.3,"y":-0.06},{"s":"L","x":156.7,"y":-0.25},{"s":"L","x":158,"y":-0.27},{"s":"L","x":160,"y":-0.14},{"s":"L","x":162,"y":-0.19},{"s":"L","x":164,"y":0},{"s":"L","x":166.1,"y":-0.01},{"s":"L","x":168.7,"y":-0.05},{"s":"L","x":170.8,"y":-0.12},{"s":"L","x":172.8,"y":-0.11},{"s":"L","x":175.4,"y":-0.15},{"s":"L","x":177.5,"y":-0.21},{"s":"L","x":178.8,"y":-0.11},{"s":"L","x":180,"y":-0.18},
{"s":"R","x":0,"y":-0.65},{"s":"R","x":1.6,"y":-0.5},{"s":"R","x":3.6,"y":-0.53},{"s":"R","x":5.6,"y":-0.52},{"s":"R","x":7.6,"y":-0.5},{"s":"R","x":9.7,"y":-0.49},{"s":"R","x":11.7,"y":-0.53},{"s":"R","x":13,"y":-0.5},{"s":"R","x":15,"y":-0.59},{"s":"R","x":17,"y":-0.56},{"s":"R","x":19,"y":-0.62},{"s":"R","x":21.1,"y":-0.65},{"s":"R","x":23.1,"y":-0.59},{"s":"R","x":24.4,"y":-0.45},{"s":"R","x":25.8,"y":-0.62},{"s":"R","x":28.5,"y":-0.68},{"s":"R","x":31.1,"y":-0.71},{"s":"R","x":33.8,"y":-0.77},{"s":"R","x":36.5,"y":-0.79},{"s":"R","x":39.2,"y":-0.82},{"s":"R","x":41.9,"y":-0.86},{"s":"R","x":44.6,"y":-0.87},{"s":"R","x":47.2,"y":-0.89},{"s":"R","x":49.9,"y":-0.88},{"s":"R","x":52.6,"y":-0.9},{"s":"R","x":55.3,"y":-0.89},{"s":"R","x":58,"y":-0.9},{"s":"R","x":60.7,"y":-0.93},{"s":"R","x":63.4,"y":-0.96},{"s":"R","x":66,"y":-1.04},{"s":"R","x":68.7,"y":-1.02},{"s":"R","x":71.4,"y":-1.02},{"s":"R","x":74.1,"y":-1.08},{"s":"R","x":75.4,"y":-1.14},{"s":"R","x":76.8,"y":-1.05},{"s":"R","x":78.1,"y":-1.01},{"s":"R","x":80.8,"y":-1.01},{"s":"R","x":83.5,"y":-0.95},{"s":"R","x":85.5,"y":-1.05},{"s":"R","x":87.5,"y":-1.11},{"s":"R","x":89.5,"y":-1.19},{"s":"R","x":90.9,"y":-1.07},{"s":"R","x":92.9,"y":-1},{"s":"R","x":94.9,"y":-0.95},{"s":"R","x":96.9,"y":-0.83},{"s":"R","x":99,"y":-0.92},{"s":"R","x":101,"y":-0.99},{"s":"R","x":103,"y":-1.07},{"s":"R","x":105,"y":-1.06},{"s":"R","x":107,"y":-1.08},{"s":"R","x":109,"y":-1.07},{"s":"R","x":111,"y":-1.1},{"s":"R","x":113,"y":-1.02},{"s":"R","x":115,"y":-1.01},{"s":"R","x":117,"y":-0.98},{"s":"R","x":119.1,"y":-0.92},{"s":"R","x":121.1,"y":-0.9},{"s":"R","x":123.1,"y":-0.87},{"s":"R","x":125.1,"y":-0.84},{"s":"R","x":127.1,"y":-0.83},{"s":"R","x":128.5,"y":-0.82},{"s":"R","x":129.5,"y":-0.1},{"s":"R","x":132.5,"y":-0.1},{"s":"R","x":136.5,"y":-0.09},{"s":"R","x":140.5,"y":-0.09},{"s":"R","x":143.2,"y":-0.08},{"s":"R","x":143.9,"y":-0.71},{"s":"R","x":145.2,"y":-0.74},{"s":"R","x":146.6,"y":-0.71},{"s":"R","x":147.9,"y":-0.74},{"s":"R","x":149.3,"y":-0.06},{"s":"R","x":151.3,"y":-0.03},{"s":"R","x":154,"y":-0.03},{"s":"R","x":156.7,"y":-0.03},{"s":"R","x":158,"y":-0.25},{"s":"R","x":158.7,"y":-0.04},{"s":"R","x":162,"y":-0.03},{"s":"R","x":166.1,"y":-0.03},{"s":"R","x":170.1,"y":-0.03},{"s":"R","x":174.1,"y":-0.04},{"s":"R","x":176.8,"y":-0.03},{"s":"R","x":180,"y":-0.03},
{"s":"B","x":0,"y":-0.59},{"s":"B","x":1,"y":-0.7},{"s":"B","x":3,"y":-0.71},{"s":"B","x":5,"y":-0.73},{"s":"B","x":7,"y":-0.68},{"s":"B","x":9.7,"y":-0.7},{"s":"B","x":11.7,"y":-0.68},{"s":"B","x":13.7,"y":-0.65},{"s":"B","x":15.7,"y":-0.71},{"s":"B","x":17.7,"y":-0.67},{"s":"B","x":20.4,"y":-0.68},{"s":"B","x":22.4,"y":-0.73},{"s":"B","x":24.4,"y":-0.7},{"s":"B","x":27.1,"y":-0.74},{"s":"B","x":29.8,"y":-0.79},{"s":"B","x":32.5,"y":-0.83},{"s":"B","x":35.2,"y":-0.87},{"s":"B","x":37.9,"y":-0.9},{"s":"B","x":40.5,"y":-0.96},{"s":"B","x":43.2,"y":-0.99},{"s":"B","x":45.9,"y":-1.01},{"s":"B","x":48.6,"y":-1.07},{"s":"B","x":51.3,"y":-1.13},{"s":"B","x":54,"y":-1.19},{"s":"B","x":56.6,"y":-1.22},{"s":"B","x":59.3,"y":-1.25},{"s":"B","x":62,"y":-1.26},{"s":"B","x":64.7,"y":-1.29},{"s":"B","x":67.4,"y":-1.27},{"s":"B","x":70,"y":-1.26},{"s":"B","x":72.7,"y":-1.3},{"s":"B","x":74.8,"y":-1.35},{"s":"B","x":76.8,"y":-1.45},{"s":"B","x":78.1,"y":-1.39},{"s":"B","x":79.5,"y":-1.19},{"s":"B","x":80.8,"y":-1.01},{"s":"B","x":82.1,"y":-0.96},{"s":"B","x":84.2,"y":-0.99},{"s":"B","x":86.2,"y":-1.08},{"s":"B","x":88.2,"y":-1.12},{"s":"B","x":90.2,"y":-1.33},{"s":"B","x":92.2,"y":-1.44},{"s":"B","x":94.2,"y":-1.41},{"s":"B","x":96.3,"y":-1.27},{"s":"B","x":98.3,"y":-1.22},{"s":"B","x":100.3,"y":-1.2},{"s":"B","x":102.3,"y":-1.22},{"s":"B","x":104.3,"y":-1.25},{"s":"B","x":106.3,"y":-1.2},{"s":"B","x":108.3,"y":-1.22},{"s":"B","x":109.7,"y":-1.22},{"s":"B","x":111.7,"y":-1.13},{"s":"B","x":113.7,"y":-1.04},{"s":"B","x":115.7,"y":-0.95},{"s":"B","x":117.7,"y":-0.9},{"s":"B","x":119.7,"y":-0.83},{"s":"B","x":122.4,"y":-0.83},{"s":"B","x":125.1,"y":-0.82},{"s":"B","x":127.1,"y":-0.8},{"s":"B","x":129.1,"y":-0.87},{"s":"B","x":131.2,"y":-0.85},{"s":"B","x":133.8,"y":-0.77},{"s":"B","x":135.9,"y":-0.68},{"s":"B","x":137.9,"y":-0.65},{"s":"B","x":139.9,"y":-0.62},{"s":"B","x":141.2,"y":-0.61},{"s":"B","x":143.2,"y":-0.67},{"s":"B","x":145.2,"y":-0.73},{"s":"B","x":147.3,"y":-0.78},{"s":"B","x":149.3,"y":-0.82},{"s":"B","x":150.2,"y":-0.62},{"s":"B","x":151.3,"y":-0.49},{"s":"B","x":152.6,"y":-0.5},{"s":"B","x":154.6,"y":-0.47},{"s":"B","x":156.7,"y":-0.31},{"s":"B","x":158,"y":-0.46},{"s":"B","x":160,"y":-0.4},{"s":"B","x":162,"y":-0.48},{"s":"B","x":164,"y":-0.47},{"s":"B","x":166.1,"y":-0.53},{"s":"B","x":168.1,"y":-0.48},{"s":"B","x":170.1,"y":-0.56},{"s":"B","x":172.1,"y":-0.53},{"s":"B","x":173.4,"y":-0.54},{"s":"B","x":174.8,"y":-0.36},{"s":"B","x":176.1,"y":-0.42},{"s":"B","x":177.5,"y":-0.1},{"s":"B","x":178.8,"y":-0.07},{"s":"B","x":180,"y":-0.18}
]
},
"spacing": 26,
"resolve": {"scale": {"color": "independent"}, "legend": {"color": "independent"}},
"vconcat": [
{"hconcat": [
{"width": 447, "height": 248, "data": {"name": "a"}, "title": {"text": "(a) U180-15%", "dx": -48, "offset": 20},
 "mark": {"type": "line", "strokeWidth": 2.2},
 "encoding": {
  "x": {"field": "x", "type": "quantitative", "scale": {"domain": [0, 180], "nice": false, "zero": false}, "axis": {"orient": "top", "title": "Axial Distance(mm)", "values": [0,15,30,45,60,75,90,105,120,135,150,165,180], "labelExpr": "datum.value % 30 == 0 ? datum.label : ''"}},
  "y": {"field": "y", "type": "quantitative", "scale": {"domain": [-2, 0.2], "nice": false, "zero": false}, "axis": {"title": "Radius loss(mm)", "values": [0.2,0.1,0,-0.1,-0.2,-0.3,-0.4,-0.5,-0.6,-0.7,-0.8,-0.9,-1,-1.1,-1.2,-1.3,-1.4,-1.5,-1.6,-1.7,-1.8,-1.9,-2], "labelExpr": "abs(round(datum.value*10)) % 2 == 0 ? toString(round(datum.value*10)/10) : ''"}},
  "color": {"field": "s", "type": "nominal", "scale": {"domain": ["T","L","R","B"], "range": ["#C00000","#0070C0","#00B050","#000000"]}, "legend": {"title": null, "legendX": 11, "legendY": 152, "labelExpr": "datum.label == 'T' ? 'Top line' : datum.label == 'L' ? 'Left line' : datum.label == 'R' ? 'Right line' : 'Bottom line'"}}
 }},
{"width": 447, "height": 248, "data": {"name": "b"}, "title": {"text": "(b) U100-15%", "dx": -50, "offset": 20},
 "mark": {"type": "line", "strokeWidth": 2.2},
 "encoding": {
  "x": {"field": "x", "type": "quantitative", "scale": {"domain": [0, 180], "nice": false, "zero": false}, "axis": {"orient": "top", "title": "Axial Distance(mm)", "values": [0,15,30,45,60,75,90,105,120,135,150,165,180], "labelExpr": "datum.value % 30 == 0 ? datum.label : ''"}},
  "y": {"field": "y", "type": "quantitative", "scale": {"domain": [-2, 0.2], "nice": false, "zero": false}, "axis": {"title": "Radius loss(mm)", "values": [0.2,0.1,0,-0.1,-0.2,-0.3,-0.4,-0.5,-0.6,-0.7,-0.8,-0.9,-1,-1.1,-1.2,-1.3,-1.4,-1.5,-1.6,-1.7,-1.8,-1.9,-2], "labelExpr": "abs(round(datum.value*10)) % 2 == 0 ? toString(round(datum.value*10)/10) : ''"}},
  "color": {"field": "s", "type": "nominal", "scale": {"domain": ["T","L","R","B"], "range": ["#C00000","#0070C0","#00B050","#000000"]}, "legend": {"title": null, "legendX": 14, "legendY": 154, "labelExpr": "datum.label == 'T' ? 'Top line' : datum.label == 'L' ? 'Left line' : datum.label == 'R' ? 'Right line' : 'Bottom line'"}}
 }}
], "spacing": 20, "resolve": {"scale": {"color": "independent"}, "legend": {"color": "independent"}}},
{"hconcat": [
{"width": 447, "height": 248, "data": {"name": "c"}, "title": {"text": "(c) U40-15%", "dx": -52, "offset": 20},
 "mark": {"type": "line", "strokeWidth": 2.2},
 "encoding": {
  "x": {"field": "x", "type": "quantitative", "scale": {"domain": [0, 180], "nice": false, "zero": false}, "axis": {"orient": "top", "title": "Axial Distance(mm)", "values": [0,15,30,45,60,75,90,105,120,135,150,165,180], "labelExpr": "datum.value % 30 == 0 ? datum.label : ''"}},
  "y": {"field": "y", "type": "quantitative", "scale": {"domain": [-2, 0.2], "nice": false, "zero": false}, "axis": {"title": "Radius loss(mm)", "values": [0.2,0.1,0,-0.1,-0.2,-0.3,-0.4,-0.5,-0.6,-0.7,-0.8,-0.9,-1,-1.1,-1.2,-1.3,-1.4,-1.5,-1.6,-1.7,-1.8,-1.9,-2], "labelExpr": "abs(round(datum.value*10)) % 2 == 0 ? toString(round(datum.value*10)/10) : ''"}},
  "color": {"field": "s", "type": "nominal", "scale": {"domain": ["T","L","R","B"], "range": ["#C00000","#0070C0","#00B050","#000000"]}, "legend": {"title": null, "legendX": 15, "legendY": 156, "labelExpr": "datum.label == 'T' ? 'Top line' : datum.label == 'L' ? 'Left line' : datum.label == 'R' ? 'Right line' : 'Bottom line'"}}
 }},
{"width": 447, "height": 248, "data": {"name": "d"}, "title": {"text": "(d) U10-15%", "dx": -51, "offset": 20},
 "mark": {"type": "line", "strokeWidth": 2.2},
 "encoding": {
  "x": {"field": "x", "type": "quantitative", "scale": {"domain": [0, 180], "nice": false, "zero": false}, "axis": {"orient": "top", "title": "Axial Distance(mm)", "values": [0,15,30,45,60,75,90,105,120,135,150,165,180], "labelExpr": "datum.value % 30 == 0 ? datum.label : ''"}},
  "y": {"field": "y", "type": "quantitative", "scale": {"domain": [-2, 0.2], "nice": false, "zero": false}, "axis": {"title": "Radius loss(mm)", "values": [0.2,0.1,0,-0.1,-0.2,-0.3,-0.4,-0.5,-0.6,-0.7,-0.8,-0.9,-1,-1.1,-1.2,-1.3,-1.4,-1.5,-1.6,-1.7,-1.8,-1.9,-2], "labelExpr": "abs(round(datum.value*10)) % 2 == 0 ? toString(round(datum.value*10)/10) : ''"}},
  "color": {"field": "s", "type": "nominal", "scale": {"domain": ["T","L","R","B"], "range": ["#C00000","#0070C0","#00B050","#000000"]}, "legend": {"title": null, "legendX": 23, "legendY": 158, "labelExpr": "datum.label == 'T' ? 'Top line' : datum.label == 'L' ? 'Left line' : datum.label == 'R' ? 'Right line' : 'Bottom line'"}}
 }}
], "spacing": 20, "resolve": {"scale": {"color": "independent"}, "legend": {"color": "independent"}}}
]
}
